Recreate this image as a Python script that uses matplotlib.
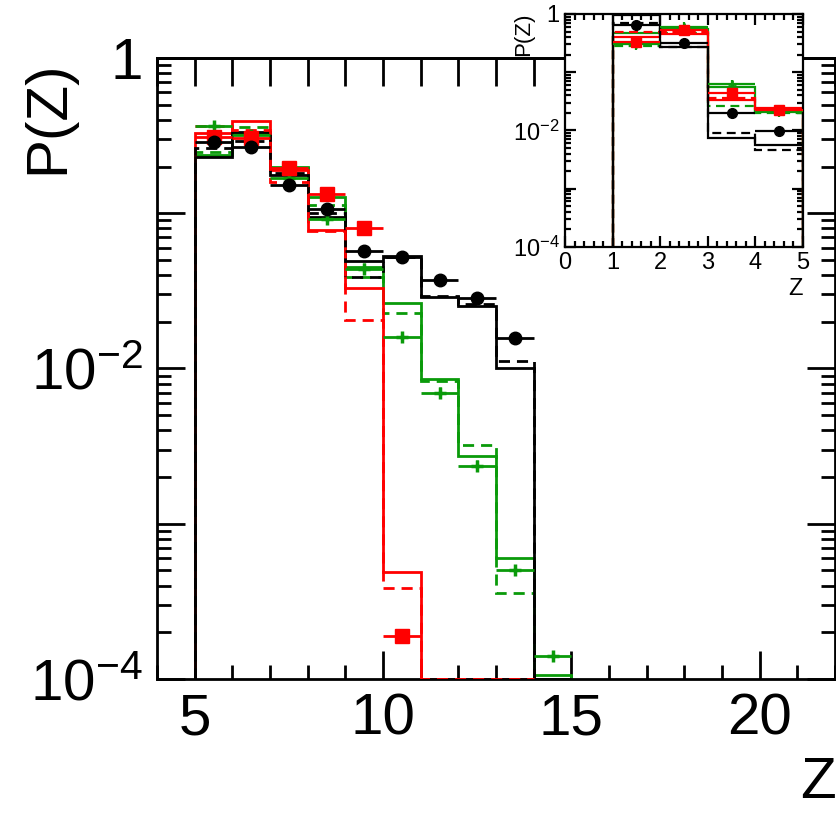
import numpy as np
import matplotlib
matplotlib.use("Agg")
import matplotlib.pyplot as plt
from matplotlib.ticker import FixedLocator, FuncFormatter, MultipleLocator, NullFormatter

plt.rcParams['font.family'] = ['Liberation Sans', 'DejaVu Sans']
plt.rcParams['mathtext.fontset'] = 'custom'
plt.rcParams['mathtext.rm'] = 'Liberation Sans'
plt.rcParams['mathtext.it'] = 'Liberation Sans:italic'
plt.rcParams['mathtext.bf'] = 'Liberation Sans:bold'

RED = '#ff0000'
GREEN = '#0a9a0a'
BLACK = '#000000'

# ---------------- main panel data (bins Z = 5..15) ----------------
edges_main = [5, 6, 7, 8, 9, 10, 11, 12, 13, 14, 15]
black_solid = [0.23, 0.335, 0.177, 0.095, 0.049, 0.053, 0.029, 0.0253, 0.0101, 0]
black_dashed = [0.263, 0.29, 0.183, 0.10, 0.039, 0.052, 0.0295, 0.026, 0.0111, 0]
red_solid = [0.33, 0.39, 0.19, 0.078, 0.033, 4.9e-4, 0, 0, 0, 0]
red_dashed = [0.365, 0.345, 0.16, 0.077, 0.0206, 3.85e-4, 0, 0, 0]
green_solid = [0.237, 0.33, 0.20, 0.128, 0.045, 0.0266, 0.0086, 0.00275, 6.05e-4, 1.06e-4]
green_dashed = [0.248, 0.36, 0.195, 0.113, 0.039, 0.0227, 0.0083, 0.0032, 3.57e-4, 0]

black_pts_z = [5.5, 6.5, 7.5, 8.5, 9.5, 10.5, 11.5, 12.5, 13.5]
black_pts = [0.289, 0.267, 0.152, 0.106, 0.057, 0.0526, 0.037, 0.0283, 0.0158]
red_pts_z = [5.5, 6.5, 7.5, 8.5, 9.5, 10.5]
red_pts = [0.31, 0.305, 0.195, 0.134, 0.080, 1.9e-4]
green_pts_z = [5.5, 6.5, 7.5, 8.5, 9.5, 10.5, 11.5, 12.5, 13.5, 14.5]
green_pts = [0.365, 0.32, 0.168, 0.092, 0.044, 0.016, 0.007, 0.00237, 5.05e-4, 1.41e-4]

# ---------------- inset data (bins Z = 1..5) ----------------
edges_in = [1, 2, 3, 4, 5]
black_solid_in = [0.98, 0.267, 0.0073, 0.0056]
black_dashed_in = [0.69, 0.27, 0.0091, 0.0046]
red_solid_in = [0.40, 0.45, 0.033, 0.024]
red_dashed_in = [0.50, 0.50, 0.036, 0.023]
green_solid_in = [0.47, 0.55, 0.055, 0.021]
green_dashed_in = [0.28, 0.48, 0.026, 0.020]

pts_in_z = [1.5, 2.5, 3.5, 4.5]
black_pts_in = [0.647, 0.32, 0.0202, 0.0098]
red_pts_in = [0.334, 0.53, 0.043, 0.0224]
green_pts_in = [0.30, 0.60, 0.062, 0.0215]

YMIN, YMAX = 1e-4, 1.0

W, H = 836, 815
fig = plt.figure(figsize=(W / 100, H / 100), dpi=100)


def floor_vals(v):
    v = np.asarray(v, dtype=float)
    return np.where(v > 0, v, YMIN)


def draw_hists(ax, edges, series, lw):
    for vals, color, ls, z, base in series:
        e = edges[:len(vals) + 1]
        ax.stairs(floor_vals(vals), e, baseline=base, fill=False,
                  color=color, linestyle=ls, linewidth=lw, zorder=z)


def log_formatter():
    def f(v, pos):
        e = int(round(np.log10(v)))
        if e % 2 != 0:
            return ''
        if e == 0:
            return '1'
        return r'$10^{%d}$' % e
    return FuncFormatter(f)


def style_log_axis(ax, major_len, minor_len, lw, fs, pad_x, pad_y, top=True):
    ax.set_yscale('log')
    ax.set_ylim(YMIN, YMAX)
    decades = [10.0 ** e for e in range(-4, 1)]
    ax.yaxis.set_major_locator(FixedLocator(decades))
    minors = [m * 10.0 ** e for e in range(-4, 0) for m in range(2, 10)]
    ax.yaxis.set_minor_locator(FixedLocator(minors))
    ax.yaxis.set_major_formatter(log_formatter())
    ax.yaxis.set_minor_formatter(NullFormatter())
    ax.tick_params(which='both', direction='in', top=top, right=True,
                   width=lw, color='black')
    ax.tick_params(which='major', length=major_len)
    ax.tick_params(which='minor', length=minor_len)
    ax.tick_params(axis='x', which='major', labelsize=fs, pad=pad_x)
    ax.tick_params(axis='y', which='major', labelsize=fs, pad=pad_y)
    for s in ax.spines.values():
        s.set_linewidth(lw)


DASH = (0, (4, 2.5))

# ---------------- main axes ----------------
ax = fig.add_axes([157 / W, 1 - 679 / H, (835 - 157) / W, (679 - 58) / H])
style_log_axis(ax, 20, 10, 2.0, 42, 10, 10, top=False)
ax.set_xlim(4, 22)
ax.xaxis.set_major_locator(FixedLocator([5, 10, 15, 20]))
ax.xaxis.set_minor_locator(MultipleLocator(1))

# top axis: equal-length ticks at every integer, no labels
axt = ax.secondary_xaxis('top')
axt.xaxis.set_major_locator(MultipleLocator(1))
axt.xaxis.set_major_formatter(NullFormatter())
axt.tick_params(which='major', direction='in', length=20, width=2.0)
axt.tick_params(which='minor', length=0)
axt.spines['top'].set_linewidth(2.0)

draw_hists(ax, edges_main, [
    (green_solid, GREEN, '-', 2, YMIN),
    (green_dashed, GREEN, DASH, 2, YMIN),
    (red_solid, RED, '-', 2, YMIN),
    (black_dashed, BLACK, DASH, 2, YMIN),
    (black_solid, BLACK, '-', 2, YMIN),
    (red_dashed, RED, DASH, 3, None),
], lw=2.0)

ax.errorbar(green_pts_z, green_pts, xerr=0.5, yerr=np.array(green_pts) * 0.08,
            fmt='+', color=GREEN, ms=9, mew=2.5, elinewidth=2.0, capsize=0, zorder=4)
ax.errorbar(red_pts_z, red_pts, xerr=0.5, fmt='s', color=RED, ms=9.5,
            elinewidth=2.0, capsize=0, zorder=5)
ax.errorbar(black_pts_z, black_pts, xerr=0.5, fmt='o', color=BLACK, ms=9,
            elinewidth=2.0, capsize=0, zorder=6)

fig.text(48 / W, 1 - 60 / H, 'P(Z)', rotation=90, ha='center', va='top', fontsize=42)
fig.text(836 / W, 1 - 810 / H, 'Z', ha='right', va='bottom', fontsize=42)

# ---------------- inset ----------------
axi = fig.add_axes([565 / W, 1 - 246.7 / H, (803 - 565) / W, (246.7 - 14) / H])
style_log_axis(axi, 8, 4, 1.6, 17, 4, 4)
axi.set_xlim(0, 5)
axi.xaxis.set_major_locator(MultipleLocator(1))
axi.xaxis.set_minor_locator(MultipleLocator(0.2))

draw_hists(axi, edges_in, [
    (green_solid_in, GREEN, '-', 2, YMIN),
    (green_dashed_in, GREEN, DASH, 2, YMIN),
    (red_solid_in, RED, '-', 2, YMIN),
    (red_dashed_in, RED, DASH, 2, YMIN),
    (black_dashed_in, BLACK, DASH, 2, YMIN),
    (black_solid_in, BLACK, '-', 2, YMIN),
], lw=1.6)

axi.errorbar(pts_in_z, green_pts_in, xerr=0.5, yerr=np.array(green_pts_in) * 0.2,
             fmt='+', color=GREEN, ms=6, mew=2.0, elinewidth=1.6, capsize=0, zorder=4)
axi.errorbar(pts_in_z, red_pts_in, xerr=0.5, fmt='s', color=RED, ms=7.5,
             elinewidth=1.6, capsize=0, zorder=5)
axi.errorbar(pts_in_z, black_pts_in, xerr=0.5, fmt='o', color=BLACK, ms=7,
             elinewidth=1.6, capsize=0, zorder=6)

fig.text(524 / W, 1 - 13 / H, 'P(Z)', rotation=90, ha='center', va='top',
         fontsize=16, zorder=10)
fig.text(803 / W, 1 - 300 / H, 'Z', ha='right', va='bottom', fontsize=17)

fig.savefig('out.png', dpi=100)
